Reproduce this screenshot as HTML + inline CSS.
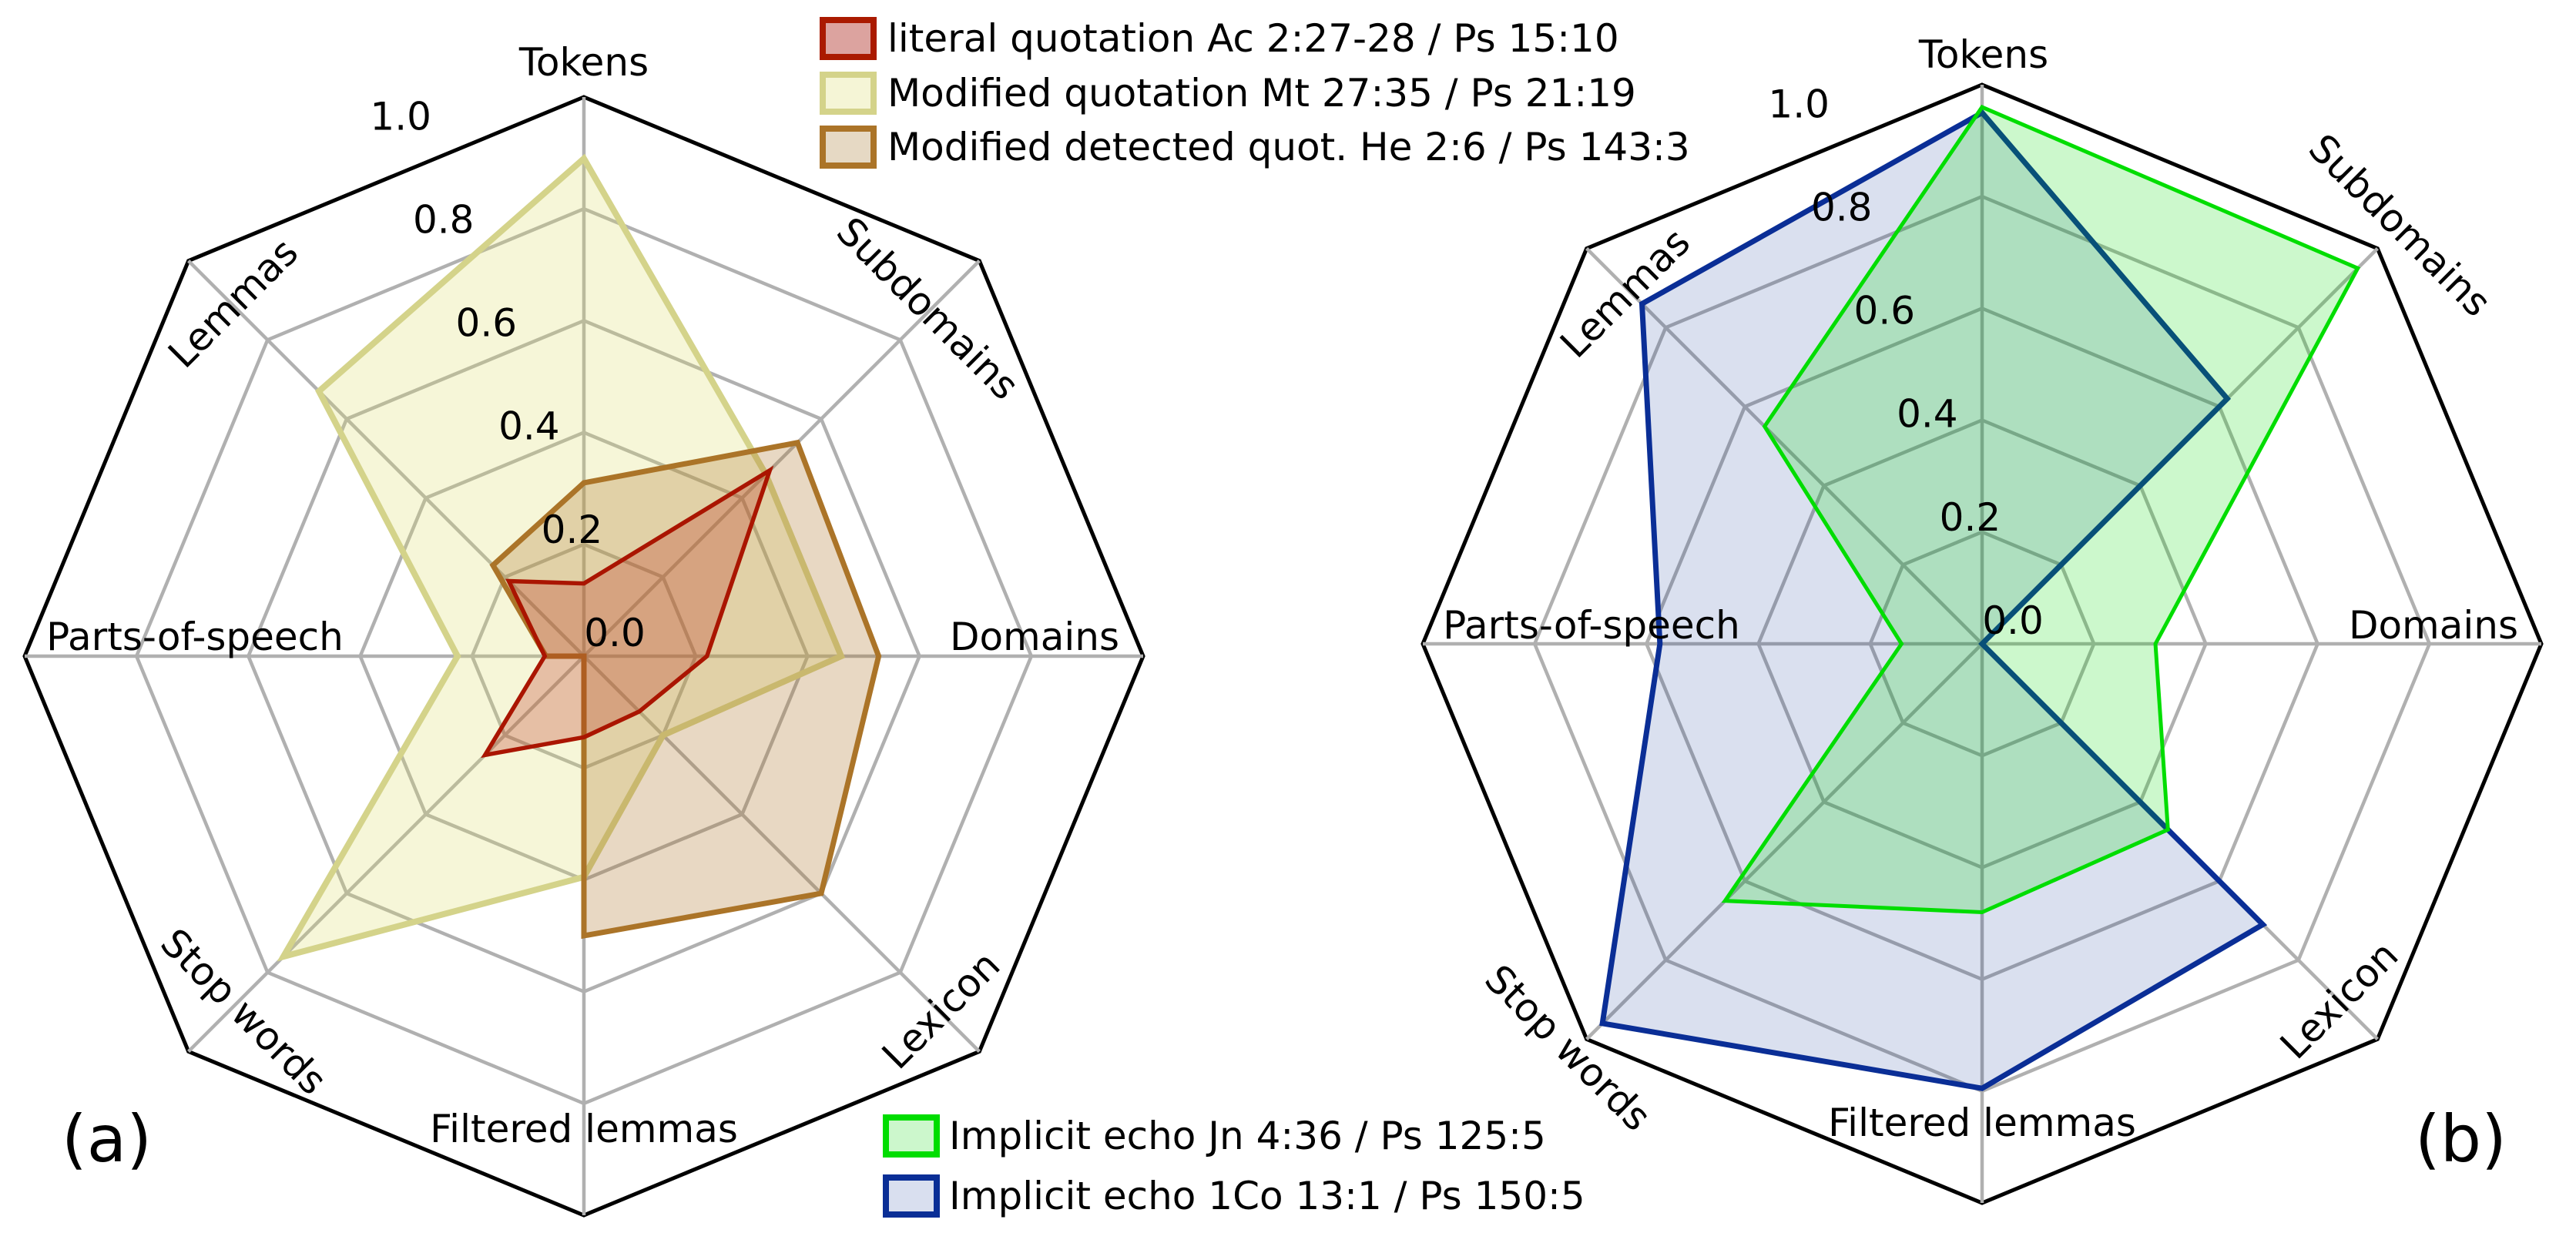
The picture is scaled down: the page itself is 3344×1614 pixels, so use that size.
<!DOCTYPE html>
<html><head><meta charset="utf-8"><style>
html,body{margin:0;padding:0;background:#fff;}
svg{display:block;font-family:"DejaVu Sans","Liberation Sans",sans-serif;}
</style></head><body>
<svg id="fig" width="3344" height="1614" viewBox="0 0 3344 1614">
<g id="chartA"></g>
<g id="chartB"></g>
<g>
  <g>
    <rect x="1068" y="26" width="66" height="48" fill="#dca39f" stroke="#aa1a00" stroke-width="8"/>
    <text x="1152" y="67" font-size="50">literal quotation Ac 2:27-28 / Ps 15:10</text>
  </g>
  <g>
    <rect x="1068" y="97" width="66" height="48" fill="#f5f5d6" stroke="#d4d38a" stroke-width="8"/>
    <text x="1152" y="138" font-size="50">Modified quotation Mt 27:35 / Ps 21:19</text>
  </g>
  <g>
    <rect x="1068" y="167" width="66" height="48" fill="#e6d9c4" stroke="#ab7428" stroke-width="8"/>
    <text x="1152" y="208" font-size="50">Modified detected quot. He 2:6 / Ps 143:3</text>
  </g>
</g>
<g>
  <g>
    <rect x="1150" y="1451" width="66" height="48" fill="#ccf7cc" stroke="#00dd00" stroke-width="8"/>
    <text x="1232" y="1492" font-size="50">Implicit echo Jn 4:36 / Ps 125:5</text>
  </g>
  <g>
    <rect x="1150" y="1529" width="66" height="48" fill="#d9dfef" stroke="#0a2e96" stroke-width="8"/>
    <text x="1232" y="1570" font-size="50">Implicit echo 1Co 13:1 / Ps 150:5</text>
  </g>
</g>
<text x="80" y="1508" font-size="84">(a)</text>
<text x="3135" y="1508" font-size="84">(b)</text>
</svg>
<script>
const categories = ["Tokens","Subdomains","Domains","Lexicon","Filtered lemmas","Stop words","Parts-of-speech","Lemmas"];
const tickValues = [0.2,0.4,0.6,0.8,1.0];
const tickLabels = ["0.0","0.2","0.4","0.6","0.8","1.0"];
const literalValues = [0.13,0.47,0.22,0.14,0.145,0.25,0.07,0.19];
const modifiedValues = [0.89,0.46,0.46,0.20,0.395,0.76,0.226,0.67];
const detectedValues = [0.31,0.54,0.527,0.60,0.50,0.0,0.068,0.23];
const echoJnValues = [0.96,0.95,0.31,0.47,0.48,0.65,0.144,0.55];
const echo1CoValues = [0.95,0.62,0.0,0.71,0.795,0.96,0.576,0.86];

const NS = "http://www.w3.org/2000/svg";
const R = 726;
function mk(tag, attrs, parent){
  const e = document.createElementNS(NS, tag);
  for (const k in attrs) e.setAttribute(k, attrs[k]);
  parent.appendChild(e);
  return e;
}
function pt(cx, cy, i, v){
  const a = i * Math.PI / 4;
  return [cx + v * R * Math.sin(a), cy - v * R * Math.cos(a)];
}
function ring(cx, cy, v){
  return categories.map((c,i)=>pt(cx,cy,i,v).join(",")).join(" ");
}
function drawChart(g, cx, cy, series, labelPos){
  tickValues.forEach((v)=>{
    const p = mk("polygon", {points: ring(cx,cy,v), fill:"none", stroke: v===1.0 ? "#000" : "#b0b0b0", "stroke-width": v===1.0 ? 5 : 4.5}, g);
    
    
  });
  categories.forEach((c,i)=>{
    const e = pt(cx,cy,i,1);
    const l = mk("line", {x1:cx, y1:cy, x2:e[0], y2:e[1], stroke:"#b0b0b0", "stroke-width":4.5}, g);
    
    
  });
  series.forEach(s=>{
    const pts = s.values.map((v,i)=>pt(cx,cy,i,v).join(",")).join(" ");
    const p = mk("polygon", {points:pts, fill:s.fill, "fill-opacity":s.fo, stroke:s.stroke, "stroke-width":s.sw, "stroke-linejoin":"miter"}, g);
    
    
  });
  tickLabels.forEach((t,k)=>{
    const v = k * 0.2;
    const a = -Math.PI/8;
    const x = cx + v*R*Math.sin(a) + 40;
    const y = cy - v*R*Math.cos(a) - 31;
    const tx = mk("text", {x:x, y:y+18, "font-size":50, "text-anchor":"middle"}, g);
    tx.textContent = t;
    
    
  });
  categories.forEach((c,i)=>{
    const lp = labelPos[i];
    const tx = mk("text", {x:0, y:18, "font-size":50, "text-anchor":"middle", transform:"translate("+lp[0]+","+lp[1]+") rotate("+lp[2]+")"}, g);
    tx.textContent = c;
    
    
  });
}
const gA = document.getElementById("chartA");
const gB = document.getElementById("chartB");
drawChart(gA, 758, 852, [
  {name:"series-modified-quotation", values:modifiedValues, fill:"#dcdc64", fo:0.25, stroke:"#d4d38a", sw:8},
  {name:"series-detected-quotation", values:detectedValues, fill:"#ac7428", fo:0.28, stroke:"#ab7428", sw:7},
  {name:"series-literal-quotation", values:literalValues, fill:"#b81c0a", fo:0.25, stroke:"#aa1500", sw:5.5}
], [[758,80,0],[1205,400,45],[1343,826,0],[1221,1311,-45],[758,1465,0],[317,1313,45],[253,826,0],[302,393,-45]]);
drawChart(gB, 2573, 836, [
  {name:"series-echo-1co", values:echo1CoValues, fill:"#0a2e96", fo:0.15, stroke:"#0a2e96", sw:7},
  {name:"series-echo-jn", values:echoJnValues, fill:"#00dc00", fo:0.2, stroke:"#00dd00", sw:5}
], [[2575,70,0],[3116,292,45],[3159,811,0],[3036,1298,-45],[2573,1457,0],[2036,1360,45],[2066,811,0],[2109,380,-45]]);
</script>
</body></html>
